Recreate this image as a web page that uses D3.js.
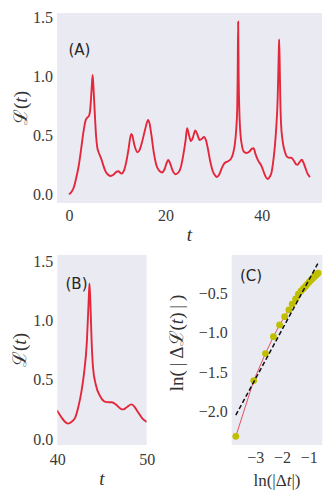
<!DOCTYPE html>
<html><head><meta charset="utf-8">
<script src="https://cdn.jsdelivr.net/npm/d3@7/dist/d3.min.js"></script>
<style>
html,body{margin:0;padding:0;background:#fff;}
svg text{font-family:"Liberation Serif","DejaVu Serif",serif;fill:#333;}
</style></head>
<body><svg id="c" width="332" height="498"></svg>
<script>
// ---- data ----
const timeT = [0,0.5,1.0,1.5,2.0,2.5,3.0,3.4,3.8,4.1,4.4,4.7,4.9,5.1,5.35,5.6,5.85,6.2,6.6,7.0,7.5,8.0,8.6,9.2,9.8,10.2,10.9,11.4,11.8,12.3,12.9,13.1,13.6,14.2,14.7,15.2,15.8,16.4,16.7,17.1,17.6,18.1,18.7,19.3,19.8,20.3,20.6,21.0,21.5,22.1,22.7,23.2,23.7,24.2,24.5,24.9,25.3,25.7,26.2,26.6,27.1,27.6,28.0,28.4,28.8,29.3,29.8,30.3,30.7,31.2,31.8,32.3,33.0,33.6,34.0,34.4,34.7,34.9,35.0,35.1,35.2,35.35,35.6,35.9,36.3,36.8,37.4,37.9,38.3,38.7,39.2,39.8,40.0,40.4,40.8,41.2,41.6,42.0,42.35,42.7,43.0,43.3,43.5,43.6,43.7,43.85,44.0,44.3,44.8,45.3,45.8,46.1,46.6,47.1,47.4,47.8,48.3,48.7,49.0,49.5,50.0];
const lossL = [0.0,0.02,0.06,0.14,0.24,0.38,0.53,0.62,0.65,0.66,0.72,0.9,1.01,0.88,0.68,0.5,0.4,0.35,0.31,0.26,0.2,0.17,0.155,0.165,0.19,0.195,0.175,0.2,0.26,0.37,0.51,0.5,0.41,0.355,0.38,0.45,0.55,0.63,0.6,0.5,0.35,0.25,0.2,0.185,0.21,0.27,0.29,0.26,0.2,0.17,0.185,0.23,0.33,0.46,0.56,0.5,0.45,0.48,0.54,0.51,0.46,0.47,0.485,0.46,0.39,0.28,0.2,0.16,0.147,0.17,0.23,0.265,0.28,0.3,0.34,0.42,0.55,0.72,1.0,1.46,1.0,0.7,0.5,0.41,0.36,0.35,0.36,0.385,0.39,0.34,0.29,0.25,0.235,0.19,0.15,0.13,0.145,0.18,0.27,0.4,0.56,0.81,1.15,1.31,1.15,0.8,0.6,0.46,0.36,0.316,0.31,0.31,0.288,0.255,0.25,0.27,0.292,0.265,0.23,0.175,0.145];
const lnDt = [-3.73,-3.06,-2.62,-2.32,-2.09,-1.90,-1.74,-1.62,-1.49,-1.386,-1.291,-1.204,-1.124,-1.050,-0.981,-0.916,-0.856,-0.799,-0.744,-0.693,-0.644];
const lnDL = [-2.32,-1.61,-1.265,-1.05,-0.90,-0.795,-0.71,-0.635,-0.57,-0.51,-0.47,-0.44,-0.41,-0.38,-0.355,-0.33,-0.31,-0.29,-0.27,-0.255,-0.24];
const fitX = [-3.73,-0.66];
const fitY = [-2.05,-0.12];
const ticksA_x = [0,20,40], ticksA_y = [0.0,0.5,1.0,1.5];
const ticksB_x = [40,50], ticksB_y = [0.0,0.5,1.0,1.5];
const ticksC_x = [-3,-2,-1], ticksC_y = [-2.0,-1.5,-1.0,-0.5];

// ---- drawing ----
const svg = d3.select("#c");
const BG = "#EAEAF2", RED = "#e3283c", PTS = "#bfbf00";
const SERIF = "'Liberation Serif','DejaVu Serif',serif";
const pad = (lo,hi)=>{const m=(hi-lo)*0.05;return [lo-m,hi+m];};

function panel(box, xd, yd, xticks, yticks, xfmt, yfmt, opts){
  const g = svg.append("g");
  const x = d3.scaleLinear().domain(xd).range([box.l,box.r]);
  const y = d3.scaleLinear().domain(yd).range([box.b,box.t]);
  g.append("rect").attr("x",box.l).attr("y",box.t).attr("width",box.r-box.l).attr("height",box.b-box.t).attr("fill",BG);
  const id = "clip"+Math.round(box.l)+"_"+Math.round(box.t);
  svg.append("clipPath").attr("id",id).append("rect").attr("x",box.l).attr("y",box.t).attr("width",box.r-box.l).attr("height",box.b-box.t);
  const ax = d3.axisBottom(x).tickValues(xticks).tickSize(0).tickPadding(0).tickFormat(xfmt);
  const ay = d3.axisLeft(y).tickValues(yticks).tickSize(0).tickPadding(0).tickFormat(yfmt);
  const gx = g.append("g").attr("transform",`translate(0,${box.b})`).call(ax).attr("font-family",SERIF);
  gx.select(".domain").remove();
  gx.selectAll("text").attr("dy",null).attr("y",opts.xTickDy).style("font-size","16px").style("font-family",SERIF).style("fill","#3a3a3a");
  const gy = g.append("g").attr("transform",`translate(${box.l-4},0)`).call(ay).attr("font-family",SERIF);
  gy.select(".domain").remove();
  gy.selectAll("text").attr("dy","0.32em").attr("x",0).style("font-size","16px").style("font-family",SERIF).style("fill","#3a3a3a");
  return {g,x,y,clip:id};
}
const fmt1 = d=>d.toFixed(1).replace("-","\u2212");
const fmt0 = d=>String(d).replace("-","\u2212");

// Panel A
const boxA = {l:57,r:322,t:13,b:203};
const A = panel(boxA, pad(d3.min(timeT),d3.max(timeT)), pad(d3.min(lossL),d3.max(lossL)), ticksA_x, ticksA_y, fmt0, fmt1, {xTickDy:18});
const dataTL = timeT.map((t,i)=>[t,lossL[i]]);
const lineA = d3.line().x(d=>A.x(d[0])).y(d=>A.y(d[1])).curve(d3.curveMonotoneX);
A.g.append("path").attr("d",lineA(dataTL)).attr("fill","none").attr("stroke",RED).attr("stroke-width",1.9).attr("clip-path",`url(#${A.clip})`);

// Panel B
const boxB = {l:57.3,r:146.7,t:255,b:445};
const B = panel(boxB, [40,50], [-0.05,1.55], ticksB_x, ticksB_y, fmt0, fmt1, {xTickDy:20});
const lineB = d3.line().x(d=>B.x(d[0])).y(d=>B.y(d[1])).curve(d3.curveMonotoneX);
B.g.append("path").attr("d",lineB(dataTL.filter(d=>d[0]>=39))).attr("fill","none").attr("stroke",RED).attr("stroke-width",1.9).attr("clip-path",`url(#${B.clip})`);

// Panel C
const boxC = {l:231.7,r:322.3,t:255,b:445};
const allY = lnDL.concat(fitY), allX = lnDt.concat(fitX);
const C = panel(boxC, pad(d3.min(allX),d3.max(allX)), pad(d3.min(allY),d3.max(allY)), ticksC_x, ticksC_y, fmt0, fmt1, {xTickDy:18});
const ptsC = lnDt.map((v,i)=>[v,lnDL[i]]);
const lineC = d3.line().x(d=>C.x(d[0])).y(d=>C.y(d[1]));
C.g.append("path").attr("d",lineC(ptsC)).attr("fill","none").attr("stroke",RED).attr("stroke-width",0.8);
C.g.selectAll("circle").data(ptsC).join("circle").attr("cx",d=>C.x(d[0])).attr("cy",d=>C.y(d[1])).attr("r",3.4).attr("fill",PTS);
C.g.append("path").attr("d",lineC(fitX.map((v,i)=>[v,fitY[i]]))).attr("fill","none").attr("stroke","#111").attr("stroke-width",1.5).attr("stroke-dasharray","4.5,2.5");

// panel letters
const lab = (x,y,t)=>svg.append("text").attr("x",x).attr("y",y).text(t).style("font-family","'DejaVu Sans',sans-serif").style("font-size","15px").style("fill","#262626");
lab(68.5,55,"(A)"); lab(65.5,289,"(B)"); lab(240,281,"(C)");

// axis labels
function mathLabel(x,y,rot,parts,size){
  const t = svg.append("text").attr("transform",`translate(${x},${y}) rotate(${rot})`).attr("text-anchor","middle").style("font-size",size+"px");
  parts.forEach(p=>t.append("tspan").text(p[0]).style("font-style",p[1]?"italic":"normal"));
  return t;
}
mathLabel(189.5,241,0,[["t",1]],19);
mathLabel(102,485,0,[["t",1]],19);
mathLabel(27,108,-90,[["\u2112",0],["(",0],["t",1],[")",0]],19);
mathLabel(26,350,-90,[["\u2112",0],["(",0],["t",1],[")",0]],19);
mathLabel(277,486,0,[["ln(|\u0394",0],["t",1],["|)",0]],17);
mathLabel(183,343,-90,[["ln(\u2009|\u2009\u0394",0],["\u2112",0],["(",0],["t",1],[")",0],["\u2009|\u2009)",0]],19);
</script></body></html>
